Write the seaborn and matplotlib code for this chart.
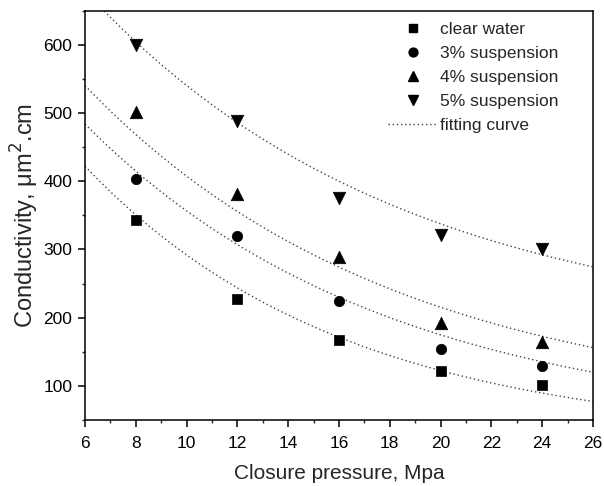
import numpy as np
import pandas as pd
import matplotlib
matplotlib.use("Agg")
import matplotlib.pyplot as plt
import seaborn as sns
from matplotlib.ticker import MultipleLocator
from matplotlib.lines import Line2D

# Measured conductivity vs closure pressure
pressure = [8, 12, 16, 20, 24]
clear_water = [343, 227, 167, 122, 101]
susp_3 = [404, 320, 225, 154, 129]
susp_4 = [501, 381, 289, 192, 164]
susp_5 = [600, 488, 375, 321, 300]

series_names = ["clear water", "3% suspension", "4% suspension", "5% suspension"]
series_values = [clear_water, susp_3, susp_4, susp_5]
markers = ["s", "o", "^", "v"]
marker_sizes = [7, 7.5, 9, 9]

# Exponential decay fits: y = y0 + A * exp(-x / t)
fit_y0 = [20.7, 36.0, 62.0, 172.0]
fit_A = [723.0, 740.0, 779.0, 820.0]
fit_t = [10.2, 11.95, 12.3, 12.5]

DOTS = (0, (1, 2))
CURVE_COLOR = "#444444"

sns.set_theme(style="ticks")
plt.rcParams["font.family"] = ["Liberation Sans", "DejaVu Sans"]

fig = plt.figure(figsize=(6.04, 4.86), dpi=100)
ax = fig.add_axes([0.1407, 0.1358, 0.8411, 0.8422])

xs = np.linspace(6, 26, 400)
for y0, A, t in zip(fit_y0, fit_A, fit_t):
    curve = pd.DataFrame({"x": xs, "y": y0 + A * np.exp(-xs / t)})
    sns.lineplot(data=curve, x="x", y="y", ax=ax, color=CURVE_COLOR,
                 linewidth=1.0, linestyle=DOTS, legend=False)

handles = []
for name, vals, m, ms in zip(series_names, series_values, markers, marker_sizes):
    df = pd.DataFrame({"x": pressure, "y": vals})
    sns.scatterplot(data=df, x="x", y="y", ax=ax, marker=m, s=ms ** 2,
                    color="black", edgecolor="black", linewidth=0.5,
                    legend=False, zorder=3)
    handles.append(Line2D([], [], linestyle="none", marker=m,
                          markersize=ms * 0.85, color="black", label=name))
handles.append(Line2D([], [], color=CURVE_COLOR, linewidth=1.0,
                      linestyle=DOTS, label="fitting curve"))

ax.set_xlim(6, 26)
ax.set_ylim(50, 650)
ax.xaxis.set_major_locator(MultipleLocator(2))
ax.xaxis.set_minor_locator(MultipleLocator(1))
ax.yaxis.set_major_locator(MultipleLocator(100))
ax.yaxis.set_minor_locator(MultipleLocator(50))
ax.tick_params(which="major", direction="out", length=5, width=1.1,
               labelsize=12.5, top=False, right=False, colors="black")
ax.tick_params(axis="x", which="major", pad=6.5)
ax.tick_params(axis="y", which="major", pad=4)
ax.tick_params(which="minor", direction="out", length=2.5, width=1.0,
               top=False, right=False)
for sp in ax.spines.values():
    sp.set_visible(True)
    sp.set_linewidth(1.1)
    sp.set_color("black")

ax.set_xlabel("Closure pressure, Mpa", fontsize=15)
ax.set_ylabel("Conductivity, μm$^2$.cm", fontsize=17)
ax.xaxis.set_label_coords(0.5, -0.108)
ax.yaxis.set_label_coords(-0.087, 0.5)

ax.legend(handles=handles, loc="upper left", frameon=False, fontsize=12.5,
          handlelength=2.85, handletextpad=0.15, labelspacing=0.5,
          borderpad=0, borderaxespad=0, bbox_to_anchor=(0.596, 0.972))

fig.savefig("out.png", dpi=100, facecolor="white")
